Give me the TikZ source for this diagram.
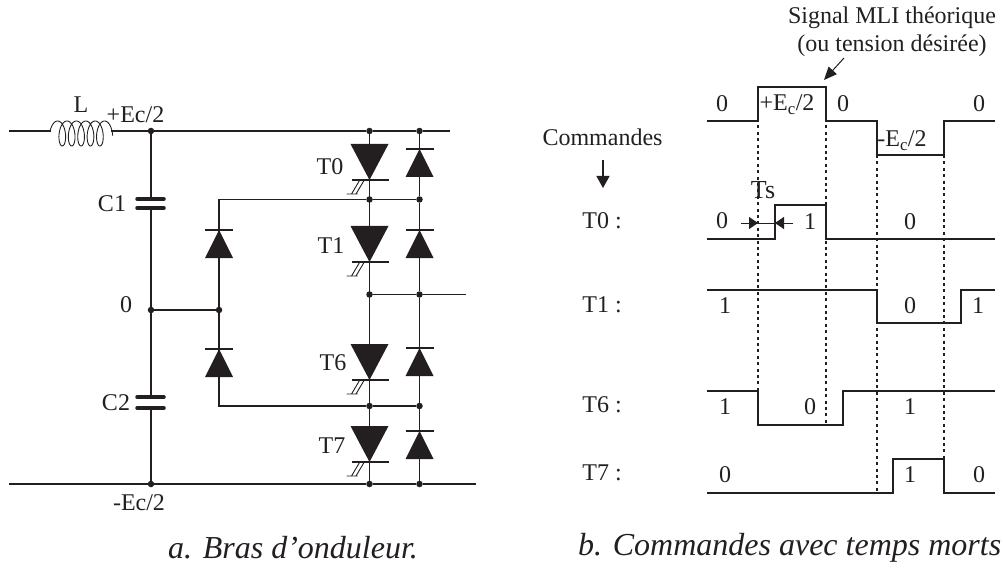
\documentclass[tikz,border=0pt]{standalone}
\usepackage{fontspec}
\setmainfont{Liberation Serif}
\usetikzlibrary{arrows.meta}
\definecolor{ink}{HTML}{231F20}
\tikzset{
  x=1pt,y=-1pt,
  wire/.style={draw=ink,line width=1.25pt},
  sig/.style={draw=ink,line width=1.6pt,line join=miter},
  guide/.style={draw=ink,line width=2pt,dash pattern=on 3pt off 3.4pt},
  lab/.style={text=ink,font=\fontsize{24}{26}\selectfont,inner sep=0pt},
  captext/.style={text=ink,font=\fontsize{32}{34}\selectfont\itshape,inner sep=0pt},
  dot/.style={circle,fill=ink,inner sep=0pt,minimum size=6.5pt},
  plate/.style={draw=ink,line width=3.5pt,line cap=round},
  pics/updiode/.style={code={
    \fill[ink] (-14,14) -- (14,14) -- (0,-14) -- cycle;
    \draw[ink,line width=1.2pt] (-14,-14) -- (14,-14);
  }},
  pics/thyr/.style={code={
    \fill[ink] (-19,-18) -- (19,-18) -- (0,18) -- cycle;
    \draw[ink,line width=1.2pt] (-18,18) -- (19,18);
    \draw[ink,line width=0.9pt] (-23,32) -- (-12,32) (-18,32) -- (-10,18.5) (-13.5,32) -- (-5.5,18.5);
  }}
}
\begin{document}
\begin{tikzpicture}
\useasboundingbox (0,0) rectangle (1003,569);
% junctions
\coordinate (in) at (9,131);
\coordinate (Lb) at (51,131);
\coordinate (Le) at (111,131);
\node[dot] (top) at (151,131) {};
\coordinate (topEnd) at (450,131);
\node[dot] (mid) at (151,310) {};
\node[dot] (bot) at (151,484) {};
\coordinate (botStart) at (9,484);
\coordinate (botEnd) at (476,484);
\node[dot] (midD) at (219,310) {};
\coordinate (dTop) at (219,199.5);
\coordinate (dBot) at (219,406);
\node[dot] (t1) at (369.5,131) {};
\node[dot] (t2) at (419.5,131) {};
\node[dot] (a1) at (369.5,199.5) {};
\node[dot] (a2) at (419.5,199.5) {};
\node[dot] (b1) at (369.5,294.5) {};
\node[dot] (b2) at (419.5,294.5) {};
\coordinate (out) at (466,294.5);
\node[dot] (c1) at (369.5,406) {};
\node[dot] (c2) at (419.5,406) {};
\node[dot] (e1) at (369.5,484) {};
\node[dot] (e2) at (419.5,484) {};
% wires
\draw[wire] (in) -- (Lb) (Le) -- (top) -- (t1) -- (t2) -- (topEnd);
\draw[wire] (botStart) -- (bot) -- (e1) -- (e2) -- (botEnd);
\draw[wire] (top) -- (151,199) (151,208) -- (151,397) (151,408) -- (bot);
\draw[wire] (mid) -- (midD);
\draw[wire] (a1) -- (dTop) -- (dBot) -- (c1);
\draw[wire] (a1) -- (a2);
\draw[wire] (c1) -- (c2);
\draw[wire] (b1) -- (b2) -- (out);
\draw[wire] (t1) -- (e1);
\draw[wire] (t2) -- (a2) -- (b2) -- (c2) -- (e2);
% inductor
\draw[ink,line width=0.9pt,smooth,samples=260,domain=170:-1810,variable=\t]
  plot ({55.5+(170-\t)/360*9.4+5.5*cos(\t)},{133.5-12.5*sin(\t)});
% capacitors
\draw[plate] (137,199) -- (164,199);
\draw[plate] (137,208) -- (164,208);
\draw[plate] (137,397) -- (164,397);
\draw[plate] (137,408) -- (164,408);
% diodes and thyristors
\pic at (219,244) {updiode};
\pic at (219,363) {updiode};
\pic at (419.5,163) {updiode};
\pic at (419.5,244) {updiode};
\pic at (419.5,362) {updiode};
\pic at (419.5,445) {updiode};
\pic at (369.5,162) {thyr};
\pic at (369.5,244) {thyr};
\pic at (369.5,362) {thyr};
\pic at (369.5,444) {thyr};
% left labels
\node[lab] (lL) at (81,105) {L};
\node[lab] (lE) at (135.5,115) {+Ec/2};
\node[lab] (lC1) at (112,204) {C1};
\node[lab] (l0) at (126,305) {0};
\node[lab] (lC2) at (116,403) {C2};
\node[lab] (lmE) at (139,503) {-Ec/2};
\node[lab] (lT0) at (330,167) {T0};
\node[lab] (lT1) at (331,246) {T1};
\node[lab] (lT6) at (333,363) {T6};
\node[lab] (lT7) at (332,446) {T7};
% signals
\draw[guide] (758,87) -- (758,425);
\draw[guide] (826,87) -- (826,425);
\draw[guide] (877,155) -- (877,493);
\draw[guide] (944,155) -- (944,459);
\draw[sig] (707,121) -- (758,121) -- (758,87) -- (826,87) -- (826,121) -- (877,121) -- (877,155) -- (944,155) -- (944,121) -- (995,121);
\draw[sig] (707,239) -- (775,239) -- (775,205) -- (826,205) -- (826,239) -- (995,239);
\draw[sig] (707,290) -- (877,290) -- (877,323) -- (961,323) -- (961,290) -- (995,290);
\draw[sig] (707,391) -- (758,391) -- (758,425) -- (843,425) -- (843,391) -- (995,391);
\draw[sig] (707,493) -- (893,493) -- (893,459) -- (944,459) -- (944,493) -- (995,493);
% annotations
\node[lab] (sA) at (892,18) {Signal MLI théorique};
\node[lab] (sB) at (892,46) {(ou tension désirée)};
\coordinate (arrS) at (844,58);
\coordinate (arrE) at (824,80);
\draw[ink,line width=1pt,-{Triangle[length=13pt,width=11pt]}] (arrS) -- (arrE);
\node[lab] (cmd) at (602.5,137) {Commandes};
\coordinate (cmdS) at (603,160);
\coordinate (cmdE) at (603,188);
\draw[ink,line width=1.2pt,-{Triangle[length=12pt,width=13pt]}] (cmdS) -- (cmdE);
\node[lab,font=\fontsize{26}{28}\selectfont] (ts) at (763,190) {Ts};
\coordinate (tsA) at (741,223);
\coordinate (tsB) at (758,223);
\coordinate (tsC) at (793,223);
\coordinate (tsD) at (775,223);
\draw[ink,line width=0.9pt,-{Triangle[length=9pt,width=12pt]}] (tsA) -- (tsB);
\draw[ink,line width=0.9pt,-{Triangle[length=9pt,width=12pt]}] (tsC) -- (tsD);
\draw[ink,line width=0.7pt] (tsB) -- (tsD);
\node[lab] (rT0) at (602,221) {T0 :};
\node[lab] (rT1) at (602,305) {T1 :};
\node[lab] (rT6) at (602,405) {T6 :};
\node[lab] (rT7) at (602,473) {T7 :};
\node[lab] (v1) at (722,104) {0};
\node[lab] (v2) at (787,105) {+E\textsubscript{c}/2};
\node[lab] (v3) at (843,104) {0};
\node[lab] (v4) at (979,104) {0};
\node[lab] (v5) at (902,141) {-E\textsubscript{c}/2};
\node[lab] (a0) at (722,221) {0};
\node[lab] (a11) at (810,222) {1};
\node[lab] (a3) at (910,222) {0};
\node[lab] (b0) at (725,306) {1};
\node[lab] (b11) at (910,306) {0};
\node[lab] (b3) at (978,306) {1};
\node[lab] (c0) at (725,407) {1};
\node[lab] (c11) at (810,407) {0};
\node[lab] (c3) at (910,407) {1};
\node[lab] (d0) at (725,475) {0};
\node[lab] (d11) at (910,475) {1};
\node[lab] (d3) at (979,475) {0};
\node[captext,anchor=west] (capA) at (168,548) {a. Bras d’onduleur.};
\node[captext,anchor=west] (capB) at (578,548) {b. Commandes avec temps morts};
\end{tikzpicture}
\end{document}
